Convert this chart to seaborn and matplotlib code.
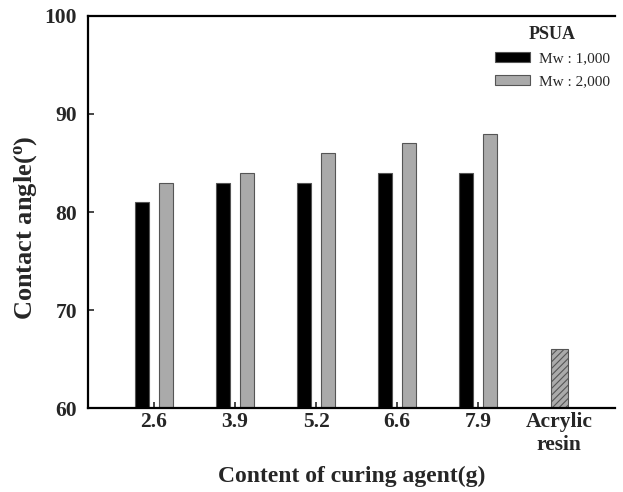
import matplotlib
matplotlib.use("Agg")
import matplotlib.pyplot as plt
import pandas as pd
import seaborn as sns

# data
contents = ["2.6", "3.9", "5.2", "6.6", "7.9"]
mw_1000 = [81, 83, 83, 84, 84]
mw_2000 = [83, 84, 86, 87, 88]
acrylic_label = "Acrylic\nresin"
acrylic_value = [66]
series_names = ["Mw : 1,000", "Mw : 2,000"]

all_cats = contents + [acrylic_label]

df = pd.DataFrame({
    "content": contents * 2,
    "angle": mw_1000 + mw_2000,
    "series": [series_names[0]] * len(contents) + [series_names[1]] * len(contents),
})
df_acr = pd.DataFrame({"content": [acrylic_label], "angle": acrylic_value})

sns.set_style("white")
plt.rcParams["font.family"] = ["Liberation Serif", "DejaVu Serif"]
plt.rcParams["mathtext.fontset"] = "custom"
plt.rcParams["mathtext.bf"] = "Liberation Serif:bold"
plt.rcParams["mathtext.rm"] = "Liberation Serif"
plt.rcParams["hatch.color"] = "#333333"
plt.rcParams["hatch.linewidth"] = 0.8

fig = plt.figure(figsize=(6.23, 4.92), dpi=100)
ax = fig.add_axes([0.1413, 0.1707, 0.8457, 0.7968])

sns.barplot(data=df, x="content", y="angle", hue="series", order=all_cats,
            hue_order=series_names, palette=["#000000", "#aaaaaa"],
            width=0.6, gap=0.4, edgecolor="#555555", linewidth=0.8,
            saturation=1, ax=ax)
sns.barplot(data=df_acr, x="content", y="angle", order=all_cats,
            color="#aaaaaa", width=0.21, edgecolor="#555555", linewidth=0.8,
            saturation=1, hatch="/////", ax=ax)

ax.set_ylim(60, 100)
ax.set_xlim(-0.815, 5.69)
ax.set_yticks([60, 70, 80, 90, 100])

ax.set_xlabel("Content of curing agent(g)", fontsize=17, fontweight="bold", labelpad=8)
ax.set_ylabel(r"Contact angle($\mathbf{^o}$)", fontsize=19, fontweight="bold")
ax.yaxis.set_label_coords(-0.094, 0.46)

for lab in ax.get_xticklabels() + ax.get_yticklabels():
    lab.set_fontweight("bold")
    lab.set_fontsize(15.5)
ax.tick_params(axis="both", direction="in", length=4, width=1.2, bottom=True, left=True)
ax.tick_params(axis="x", pad=3)
ax.tick_params(axis="y", pad=8)

for side in ["left", "bottom", "top"]:
    ax.spines[side].set_linewidth(1.6)
    ax.spines[side].set_color("black")
ax.spines["right"].set_visible(False)

leg = ax.legend(title="PSUA", loc="upper right", frameon=False, fontsize=11,
                handlelength=2.3, handleheight=0.7, borderaxespad=0.1,
                labelspacing=0.6, handletextpad=0.6,
                bbox_to_anchor=(1.005, 0.995))
leg.get_title().set_fontweight("bold")
leg.get_title().set_fontsize(13)

fig.savefig("out.png", dpi=100)
